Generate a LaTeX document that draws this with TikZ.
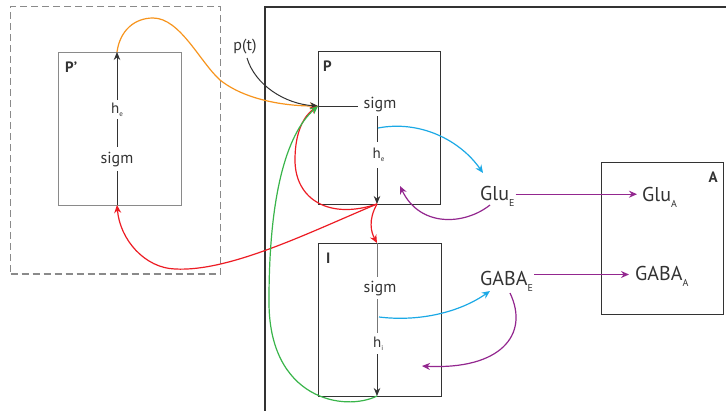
\documentclass[tikz,border=0pt]{standalone}
\usepackage{fontspec}
\setmainfont{PT Sans}
\usetikzlibrary{arrows.meta}
\definecolor{corange}{HTML}{F7941D}
\definecolor{cred}{HTML}{ED1C24}
\definecolor{cgreen}{HTML}{39B54A}
\definecolor{ccyan}{HTML}{1BA9E6}
\definecolor{cpurple}{HTML}{93278F}
\definecolor{cdark}{HTML}{333333}
\definecolor{cgray}{HTML}{8A8A8A}
\definecolor{cline}{HTML}{777777}
\newcommand{\lsub}[3]{\raisebox{-#1}{\fontsize{#2}{#2}\selectfont #3}}
\begin{document}
\begin{tikzpicture}[x=1pt,y=-1pt,
  box/.style={draw=cdark, line width=1pt, inner sep=0pt},
  lbl/.style={font=\fontsize{15}{15}\selectfont\bfseries, inner sep=0pt, text=cdark},
  txt/.style={font=\fontsize{16}{18}\selectfont, inner sep=0pt, text=cdark},
  htxt/.style={font=\fontsize{15}{18}\selectfont, inner sep=0pt, text=cdark},
  big/.style={font=\fontsize{20}{22}\selectfont, inner sep=1pt, text=cdark},
  cover/.style={fill=white},
  tipk/.style={-{Stealth[length=8pt,width=6.5pt]}},
  tipc/.style={-{Stealth[length=8pt,width=7pt]}},
  ln/.style={cdark, line width=1pt},
  cur/.style={line width=1.2pt, tipc},
  ]
\useasboundingbox (0,0) rectangle (726,410);
\fill[white] (0,0) rectangle (726,410);

% outer frame
\draw[cdark, line width=1.8pt] (265,412) -- (265,6.7) -- (730,6.7);

% boxes
\node[draw=cgray, dash pattern=on 7pt off 4pt, line width=1.5pt, minimum width=210pt, minimum height=267.3pt, inner sep=0pt] (Dbox) at (115.7,140.3) {};
\node[draw=cgray, line width=1pt, minimum width=123pt, minimum height=153pt, inner sep=0pt] (Qbox) at (119.5,128.5) {};
\node[box, minimum width=122.3pt, minimum height=152.6pt] (Pbox) at (379.2,128) {};
\node[box, minimum width=122.5pt, minimum height=153pt] (Ibox) at (380.2,319.5) {};
\node[box, minimum width=122.3pt, minimum height=152.3pt] (Abox) at (662.8,238.8) {};

% key points
\coordinate (Pj) at (318,106);
\coordinate (Pb) at (377,204);
\coordinate (It) at (377,243);
\coordinate (Im) at (377,349);
\coordinate (Ib) at (377,396);
\coordinate (Qt) at (117,52);
\coordinate (Qb) at (117,205);
\coordinate (Pc) at (378,128);
\coordinate (Ic) at (379,317);
\coordinate (GluEin) at (483,173);
\coordinate (GluEout) at (490,205);
\coordinate (Ptarget) at (400,186);
\coordinate (GabaEin) at (490,291);
\coordinate (GabaEout) at (510,293);
\coordinate (Itarget) at (422,366);
\coordinate (ptS) at (247,58);

% internal lines
\draw[ln, tipk] (Pj) -| (Pb);
\draw[ln, tipk] (Qb) -- (Qt);
\draw[cline, line width=1pt] (It) -- (Im);
\draw[ln, tipk] (Im) -- (Ib);

% internal texts
\node[txt, cover, anchor=base, inner xsep=6pt, inner ysep=4.5pt] (Psig) at (380,108) {sigm};
\node[htxt, cover, anchor=base west, inner xsep=1pt, inner ysep=6pt] (Phe) at (371.5,158.5) {h\lsub{3pt}{7}{e}};
\node[txt, cover, anchor=base, inner xsep=1pt, inner ysep=5pt] (Qsig) at (117,163) {sigm};
\node[htxt, cover, anchor=base west, inner xsep=1pt, inner ysep=3pt] (Qhe) at (110,113) {h\lsub{3pt}{7}{e}};
\node[txt, cover, anchor=base, inner xsep=1pt, inner ysep=3.5pt] (Isig) at (380,292) {sigm};
\node[htxt, cover, anchor=base west, inner xsep=1pt, inner ysep=4pt] (Ihe) at (372,347) {h\lsub{3pt}{7}{i}};

% box labels
\node[lbl, anchor=base west] (Qlbl) at (65,72) {P’};
\node[lbl, anchor=base west] (Plbl) at (323,71) {P};
\node[lbl, anchor=base west] (Ilbl) at (326,263) {I};
\node[lbl, anchor=base east] (Albl) at (718,182) {A};

% p(t)
\node[txt, anchor=base] (pt) at (245,50) {p(t)};

% transmitter labels
\node[big, anchor=base west] (GluE) at (479,200.7) {Glu\lsub{6pt}{10}{E}};
\node[big, anchor=base west] (GabaE) at (479,285.5) {GABA\lsub{6pt}{10}{E}};
\node[big, anchor=base west] (GluA) at (641,201.7) {Glu\lsub{6pt}{10}{A}};
\node[big, anchor=base west] (GabaA) at (634,280) {GABA\lsub{6pt}{10}{A}};

\coordinate (g1) at ([yshift=6.5pt]GluE.base east);
\coordinate (g2) at ([yshift=11pt]GabaE.base east);
\draw[cpurple, cur, shorten >=4pt] (g1) -- (g1 -| GluA.west);
\draw[cpurple, cur, shorten >=5pt] (g2) -- (g2 -| GabaA.west);

% curves
\draw[corange, cur] (Qt) .. controls (120,30) and (135,18) .. (153,18) .. controls (180,18) and (200,62) .. (220,80) .. controls (245,100) and (285,106) .. (Pj);
\draw[cdark, line width=1pt, tipk] (ptS) .. controls (255,85) and (285,104) .. (Pj);
\draw[cred, cur] (Pb) .. controls (330,220) and (295,200) .. (295,160) .. controls (295,130) and (305,115) .. (Pj);
\draw[cred, cur] (Pb) .. controls (368,220) and (371,232) .. (It);
\draw[cred, cur] (Pb) .. controls (310,232) and (230,272) .. (175,269) .. controls (145,268) and (120,240) .. (Qb);
\draw[cgreen, cur] (Ib) .. controls (345,412) and (268,400) .. (269,300) .. controls (269,200) and (285,135) .. (Pj);
\draw[ccyan, cur] (Pc) .. controls (420,120) and (460,140) .. (GluEin);
\draw[ccyan, cur] (Ic) .. controls (420,322) and (460,312) .. (GabaEin);
\draw[cpurple, cur] (GluEout) .. controls (465,225) and (420,228) .. (Ptarget);
\draw[cpurple, cur] (GabaEout) .. controls (530,335) and (500,370) .. (Itarget);
\end{tikzpicture}
\end{document}
